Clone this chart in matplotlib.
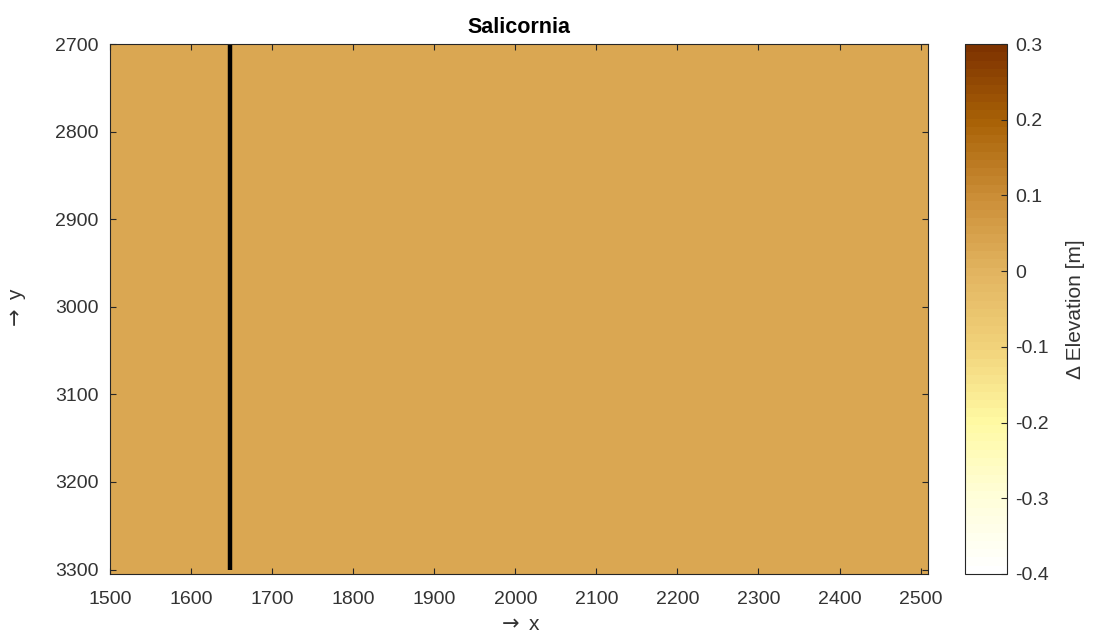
import numpy as np
import matplotlib
matplotlib.use('Agg')
import matplotlib.pyplot as plt
from matplotlib.colors import LinearSegmentedColormap

plt.rcParams['font.family'] = ['Liberation Sans', 'DejaVu Sans']

# data
x_range = [1500, 2509]
y_range = [2700, 3305]
elev_level = [[0.03, 0.03], [0.03, 0.03]]   # nearly uniform delta elevation [m]
transect_x = [1648, 1648]
transect_y = [2700, 3300]
clim = [-0.4, 0.3]
cbar_ticks = [-0.4, -0.3, -0.2, -0.1, 0, 0.1, 0.2, 0.3]
cbar_ticklabels = ['-0.4', '-0.3', '-0.2', '-0.1', '0', '0.1', '0.2', '0.3']
x_ticks = [1500, 1600, 1700, 1800, 1900, 2000, 2100, 2200, 2300, 2400, 2500]
y_ticks = [2700, 2800, 2900, 3000, 3100, 3200, 3300]

cmap_colors = [
    (0.0, '#ffffff'),
    (1 / 7, '#fffed8'),
    (2 / 7, '#fff9a2'),
    (3 / 7, '#f1d27a'),
    (4 / 7, '#e2b460'),
    (5 / 7, '#cb8e37'),
    (6 / 7, '#a96207'),
    (1.0, '#7e3300'),
]
cmap = LinearSegmentedColormap.from_list('elev', cmap_colors, N=64)

fig = plt.figure(figsize=(10.94, 6.35), dpi=100)
ax = fig.add_axes([0.1005, 0.0961, 0.7477, 0.8346])
cax = fig.add_axes([0.882, 0.0961, 0.0384, 0.8346])

im = ax.imshow(np.array(elev_level), cmap=cmap, vmin=clim[0], vmax=clim[1],
               extent=[x_range[0], x_range[1], y_range[1], y_range[0]],
               aspect='auto', interpolation='nearest')
ax.plot(transect_x, transect_y, color='black', lw=3.2, solid_capstyle='butt')

txt = '#333333'
ax.set_xlim(x_range)
ax.set_ylim(y_range[1], y_range[0])
ax.set_xticks(x_ticks)
ax.set_yticks(y_ticks)
ax.tick_params(direction='in', top=True, right=True, length=4, width=0.8,
               color='#262626', labelcolor=txt, labelsize=14)
ax.tick_params(axis='x', pad=12)
ax.tick_params(axis='y', pad=8)
for sp in ax.spines.values():
    sp.set_color('#262626')
    sp.set_linewidth(0.8)

ax.set_title('Salicornia', fontsize=15.5, fontweight='bold', pad=8)
ax.set_xlabel(r'$\rightarrow$ x', fontsize=15, color=txt, labelpad=5)
ax.set_ylabel(r'$\rightarrow$ y', fontsize=15, color=txt)
ax.yaxis.set_label_coords(-0.1, 0.5)

cbar = fig.colorbar(im, cax=cax)
cbar.set_ticks(cbar_ticks)
cbar.set_ticklabels(cbar_ticklabels)
cbar.ax.tick_params(direction='in', length=4, width=0.8, color='#262626',
                    labelcolor=txt, labelsize=14, pad=6)
cbar.outline.set_edgecolor('#262626')
cbar.outline.set_linewidth(0.8)
cbar.set_label('Δ Elevation [m]', fontsize=15, color=txt, labelpad=12)

fig.savefig('out.png', dpi=100)
